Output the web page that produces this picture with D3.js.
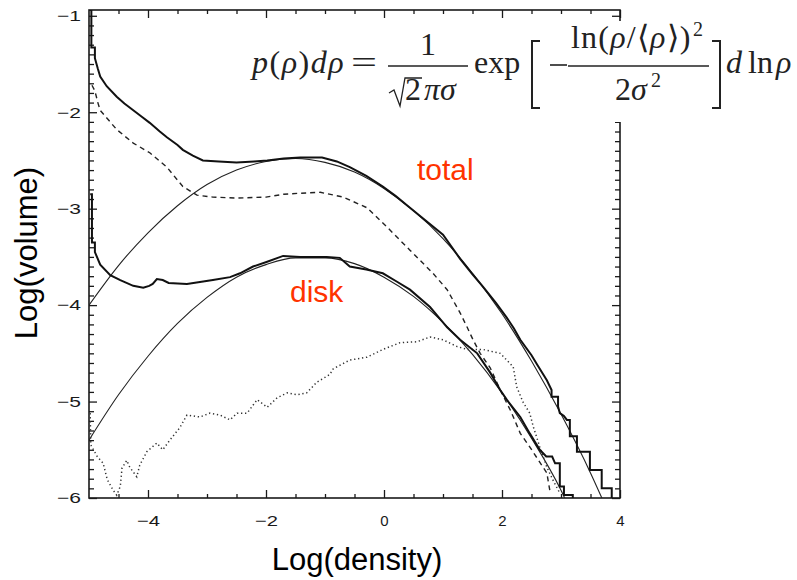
<!DOCTYPE html>
<html>
<head>
<meta charset="utf-8">
<script src="https://cdn.jsdelivr.net/npm/d3@7"></script>
<style>
  body { margin: 0; background: #fff; }
  svg { display: block; }
</style>
</head>
<body>
<script>
// tick values
const xTicks = [-4, -2, 0, 2, 4]
const yTicks = [-6, -5, -4, -3, -2, -1]

// total volume histogram (thick step line), [log density, log volume]
const totalHist = [
  [-4.99, -0.94], [-4.96, -0.94], [-4.96, -1.33], [-4.90, -1.33], [-4.90, -1.44],
  [-4.85, -1.55], [-4.81, -1.63], [-4.70, -1.73], [-4.53, -1.84], [-4.40, -1.91],
  [-4.25, -1.98], [-4.10, -2.05], [-3.97, -2.11], [-3.80, -2.20], [-3.68, -2.26],
  [-3.50, -2.34], [-3.41, -2.39], [-3.24, -2.45], [-3.07, -2.50], [-2.80, -2.51],
  [-2.50, -2.52], [-2.20, -2.51], [-1.98, -2.50], [-1.70, -2.48], [-1.42, -2.47],
  [-1.05, -2.47], [-0.80, -2.51], [-0.58, -2.57], [-0.30, -2.66], [-0.02, -2.77],
  [0.20, -2.87], [0.44, -2.99], [0.70, -3.12], [1.00, -3.27], [1.29, -3.52],
  [1.50, -3.68], [1.68, -3.81], [1.90, -3.98], [2.08, -4.13], [2.20, -4.24],
  [2.31, -4.36], [2.50, -4.52], [2.60, -4.62], [2.76, -4.78], [2.84, -4.88],
  [2.84, -4.95], [2.95, -4.95], [2.95, -5.05], [2.98, -5.12], [3.05, -5.15],
  [3.10, -5.19], [3.15, -5.19], [3.15, -5.36], [3.27, -5.36], [3.27, -5.52],
  [3.49, -5.52], [3.49, -5.71], [3.69, -5.71], [3.69, -5.90], [3.86, -5.90],
  [3.86, -6.05]
]

// lognormal fit to the total (thin line)
const totalFit = [
  [-5.0, -4.00], [-4.5, -3.59], [-4.0, -3.25], [-3.5, -2.97], [-3.0, -2.75],
  [-2.5, -2.60], [-2.0, -2.51], [-1.5, -2.48], [-1.0, -2.52], [-0.5, -2.62],
  [0.0, -2.79], [0.5, -3.02], [1.0, -3.31], [1.5, -3.67], [2.0, -4.09],
  [2.5, -4.58], [3.0, -5.13], [3.5, -5.74], [3.7, -6.01]
]

// disk histogram (thick step line)
const diskHist = [
  [-4.98, -2.85], [-4.95, -2.85], [-4.95, -3.35], [-4.90, -3.35], [-4.90, -3.45],
  [-4.81, -3.58], [-4.64, -3.69], [-4.47, -3.74], [-4.25, -3.80], [-4.08, -3.82],
  [-3.98, -3.80], [-3.92, -3.78], [-3.85, -3.73], [-3.75, -3.74], [-3.65, -3.77],
  [-3.34, -3.78], [-3.12, -3.76], [-2.90, -3.74], [-2.61, -3.71], [-2.44, -3.67],
  [-2.22, -3.60], [-1.98, -3.55], [-1.71, -3.49], [-1.42, -3.50], [-0.97, -3.50],
  [-0.75, -3.51], [-0.58, -3.60], [-0.30, -3.63], [-0.02, -3.67], [0.20, -3.75],
  [0.44, -3.84], [0.78, -4.02], [1.07, -4.23], [1.29, -4.36], [1.58, -4.50],
  [1.80, -4.70], [1.97, -4.88], [2.08, -4.98], [2.31, -5.16], [2.47, -5.33],
  [2.64, -5.50], [2.75, -5.57], [2.85, -5.57], [2.90, -5.64], [2.98, -5.64],
  [2.98, -5.88], [3.05, -5.88], [3.05, -5.97], [3.20, -5.97], [3.20, -6.05]
]

// lognormal fit to the disk (thin line)
const diskFit = [
  [-5.0, -5.40], [-4.5, -4.93], [-4.0, -4.53], [-3.5, -4.19], [-3.0, -3.92],
  [-2.5, -3.71], [-2.0, -3.58], [-1.5, -3.51], [-1.0, -3.51], [-0.5, -3.57],
  [0.0, -3.71], [0.5, -3.91], [1.0, -4.18], [1.5, -4.51], [2.0, -4.91],
  [2.5, -5.38], [3.0, -5.92], [3.07, -6.01]
]

// dashed component
const dashedSeries = [
  [-4.95, -1.72], [-4.90, -1.78], [-4.85, -1.90], [-4.81, -1.98], [-4.53, -2.18],
  [-4.25, -2.32], [-3.97, -2.42], [-3.68, -2.57], [-3.41, -2.77], [-3.17, -2.86],
  [-2.90, -2.88], [-2.50, -2.89], [-2.00, -2.88], [-1.70, -2.85], [-1.42, -2.84],
  [-1.08, -2.83], [-0.69, -2.88], [-0.29, -2.99], [0.05, -3.19], [0.44, -3.43],
  [0.83, -3.67], [1.07, -3.84], [1.29, -4.08], [1.41, -4.23], [1.51, -4.36],
  [1.63, -4.50], [1.80, -4.65], [1.97, -4.88], [2.15, -5.10], [2.31, -5.33],
  [2.47, -5.47], [2.76, -5.74], [2.81, -5.92]
]

// dotted component
const dottedSeries = [
  [-4.98, -5.12], [-4.97, -5.45], [-4.86, -5.57], [-4.76, -5.64], [-4.69, -5.81],
  [-4.59, -5.92], [-4.53, -5.97], [-4.47, -5.88], [-4.44, -5.69], [-4.36, -5.61],
  [-4.31, -5.68], [-4.19, -5.78], [-4.14, -5.66], [-4.02, -5.52], [-3.85, -5.43],
  [-3.75, -5.50], [-3.63, -5.40], [-3.46, -5.27], [-3.34, -5.14], [-3.12, -5.16],
  [-2.95, -5.12], [-2.78, -5.14], [-2.61, -5.19], [-2.49, -5.12], [-2.32, -5.12],
  [-2.15, -4.98], [-1.98, -5.06], [-1.81, -4.96], [-1.64, -4.91], [-1.47, -4.93],
  [-1.31, -4.91], [-1.14, -4.80], [-0.92, -4.72], [-0.86, -4.66], [-0.58, -4.57],
  [-0.29, -4.54], [-0.02, -4.46], [0.27, -4.39], [0.56, -4.38], [0.78, -4.33],
  [1.00, -4.36], [1.24, -4.43], [1.41, -4.46], [1.68, -4.46], [1.97, -4.50],
  [2.19, -4.64], [2.25, -4.85], [2.36, -5.01], [2.47, -5.12], [2.53, -5.26],
  [2.64, -5.47], [2.76, -5.68], [2.86, -5.81], [2.98, -5.95]
]

const W = 797, H = 580
const x = d3.scaleLinear([-5, 4], [89, 620])
const y = d3.scaleLinear([-6, -0.94], [498, 10])
const ink = '#1a1a1a'
const sans = 'Liberation Sans, Arial, Helvetica, sans-serif'
const serif = 'Liberation Serif, Times New Roman, serif'
const intFmt = d3.format('d')

const svg = d3.select(document.body).append('svg')
  .attr('width', W)
  .attr('height', H)
  .attr('xmlns', 'http://www.w3.org/2000/svg')

svg.append('clipPath').attr('id', 'plot').append('rect')
  .attr('x', x(-5)).attr('y', y(-0.94))
  .attr('width', x(4) - x(-5)).attr('height', y(-6) - y(-0.94))

const xMinor = d3.range(-9, 8).map(i => i / 2).filter(v => !xTicks.includes(v))
const yMinor = d3.range(-59, -9).filter(i => i % 10 !== 0).map(i => i / 10)

function addAxis(axis, tx, ty) {
  const g = svg.append('g')
    .attr('transform', `translate(${tx},${ty})`)
    .call(axis)
  g.select('.domain').remove()
  g.selectAll('.tick line').attr('stroke', ink).attr('stroke-width', 1.3)
  g.selectAll('.tick text')
    .attr('fill', ink)
    .attr('font-family', sans)
    .attr('font-size', 15)
  return g
}

// bottom and left: major ticks with labels, minor ticks without
addAxis(d3.axisBottom(x).tickValues(xTicks).tickSize(-8).tickPadding(17).tickFormat(intFmt), 0, y(-6))
  .selectAll('.tick text').filter(d => d < 0)
  .attr('textLength', 23).attr('lengthAdjust', 'spacingAndGlyphs')
addAxis(d3.axisBottom(x).tickValues(xMinor).tickSize(-4).tickFormat(''), 0, y(-6))
addAxis(d3.axisLeft(y).tickValues(yTicks).tickSize(-8).tickPadding(8).tickFormat(intFmt), x(-5), 0)
  .selectAll('.tick text').filter(d => d < 0)
  .attr('textLength', 24).attr('lengthAdjust', 'spacingAndGlyphs')
addAxis(d3.axisLeft(y).tickValues(yMinor).tickSize(-5).tickFormat(''), x(-5), 0)

// top and right mirror ticks
addAxis(d3.axisTop(x).tickValues(xTicks).tickSize(-8).tickFormat(''), 0, y(-0.94))
addAxis(d3.axisTop(x).tickValues(xMinor).tickSize(-4).tickFormat(''), 0, y(-0.94))
addAxis(d3.axisRight(y).tickValues(yTicks).tickSize(-8).tickFormat(''), x(4), 0)
addAxis(d3.axisRight(y).tickValues(yMinor).tickSize(-5).tickFormat(''), x(4), 0)

svg.append('rect')
  .attr('x', x(-5)).attr('y', y(-0.94))
  .attr('width', x(4) - x(-5)).attr('height', y(-6) - y(-0.94))
  .attr('fill', 'none').attr('stroke', ink).attr('stroke-width', 1.6)

// data lines
const line = d3.line().x(d => x(d[0])).y(d => y(d[1]))
const smooth = d3.line().x(d => x(d[0])).y(d => y(d[1])).curve(d3.curveMonotoneX)
const plot = svg.append('g').attr('clip-path', 'url(#plot)')

plot.append('path').attr('d', smooth(totalFit))
  .attr('fill', 'none').attr('stroke', '#222').attr('stroke-width', 1.1)
plot.append('path').attr('d', smooth(diskFit))
  .attr('fill', 'none').attr('stroke', '#222').attr('stroke-width', 1.1)
plot.append('path').attr('d', line(dashedSeries))
  .attr('fill', 'none').attr('stroke', '#222').attr('stroke-width', 1.4)
  .attr('stroke-dasharray', '5,4')
plot.append('path').attr('d', line(dottedSeries))
  .attr('fill', 'none').attr('stroke', '#333').attr('stroke-width', 1.5)
  .attr('stroke-dasharray', '1.3,2.7')
plot.append('path').attr('d', line(totalHist))
  .attr('fill', 'none').attr('stroke', '#111').attr('stroke-width', 2)
plot.append('path').attr('d', line(diskHist))
  .attr('fill', 'none').attr('stroke', '#111').attr('stroke-width', 2)

// series labels
svg.append('text').text('total')
  .attr('x', 417).attr('y', 180)
  .attr('font-family', sans).attr('font-size', 30).attr('fill', '#ff3300')
svg.append('text').text('disk')
  .attr('x', 290).attr('y', 302)
  .attr('font-family', sans).attr('font-size', 30).attr('fill', '#ff3300')

// axis titles
svg.append('text').text('Log(density)')
  .attr('x', 357).attr('y', 570).attr('text-anchor', 'middle')
  .attr('font-family', sans).attr('font-size', 31).attr('fill', '#000')
svg.append('text').text('Log(volume)')
  .attr('transform', 'translate(37,253) rotate(-90)').attr('text-anchor', 'middle')
  .attr('font-family', sans).attr('font-size', 31).attr('fill', '#000')

// formula panel, pasted over the top right of the frame
svg.append('rect')
  .attr('x', 242).attr('y', 21).attr('width', 390).attr('height', 101)
  .attr('fill', '#fff')

const eq = svg.append('g')
  .attr('font-family', serif).attr('font-size', 32).attr('fill', '#222')

function piece(parts, px, py, opts = {}) {
  const t = eq.append('text').attr('x', px).attr('y', py)
  if (opts.len) t.attr('textLength', opts.len).attr('lengthAdjust', 'spacingAndGlyphs')
  if (opts.size) t.attr('font-size', opts.size)
  if (opts.anchor) t.attr('text-anchor', opts.anchor)
  if (opts.spacing) t.attr('letter-spacing', opts.spacing)
  parts.forEach(([s, it]) => {
    t.append('tspan').text(s).attr('font-style', it ? 'italic' : 'normal')
  })
  return t
}

piece([['p', 1], ['(', 0], ['ρ', 1], [')', 0], ['d', 1], ['ρ', 1]], 252, 73, { spacing: 1.5 })
piece([['=', 0]], 351, 73, { len: 26 })
piece([['1', 0]], 428, 55, { anchor: 'middle' })
piece([['2', 0]], 405, 100)
piece([['πσ', 1]], 424, 100)
piece([['exp', 0]], 474, 73)
piece([['ln', 0], ['(', 0], ['ρ', 1], ['/', 0], ['⟨', 0], ['ρ', 1], ['⟩', 0], [')', 0]], 571, 48, { spacing: 1.2 })
piece([['2', 0]], 693, 36, { size: 20 })
piece([['2', 0], ['σ', 1]], 615, 100)
piece([['2', 0]], 651, 87, { size: 20 })
piece([['d', 1]], 726, 73)
piece([['ln', 0]], 748, 73)
piece([['ρ', 1]], 776, 73)

const eqLine = (d, w) => svg.append('path').attr('d', d)
  .attr('fill', 'none').attr('stroke', '#222').attr('stroke-width', w)
eqLine('M388,66H468', 1.4)
eqLine('M568,66H709', 1.4)
eqLine('M550,65H567', 1.6)
eqLine('M389,93L394,90L400,106L405,78H422', 1.3)
eqLine('M540,41H532V108H540', 2)
eqLine('M712,41H720V108H712', 2)
</script>
</body>
</html>
